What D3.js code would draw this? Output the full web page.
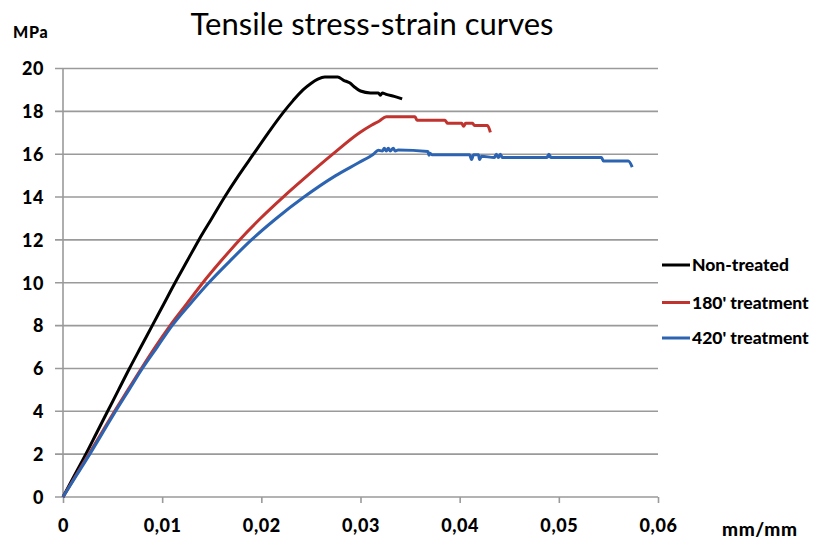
<!DOCTYPE html>
<html><head><meta charset="utf-8">
<script src="https://cdn.jsdelivr.net/npm/d3@7"></script>
<style>body{margin:0;background:#fff}svg{display:block}</style>
</head><body>
<svg id="c" width="826" height="545"></svg>
<script>
const title = "Tensile stress-strain curves";
const yUnit = "MPa", xUnit = "mm/mm";
const xTicks = [0, 0.01, 0.02, 0.03, 0.04, 0.05, 0.06];
const xTickLabels = ["0", "0,01", "0,02", "0,03", "0,04", "0,05", "0,06"];
const yTicks = [0, 2, 4, 6, 8, 10, 12, 14, 16, 18, 20];
const seriesNames = ["Non-treated", "180' treatment", "420' treatment"];
const seriesColors = ["#000000", "#c0332f", "#2c64b2"];

const nonTreatedStrain = [0,0.00115,0.0023,0.0034,0.0045,0.0056,0.0067,0.00785,0.0090,0.01015,0.0113,0.0125,0.0137,0.0150,0.0163,0.0177,0.0192,0.0207,0.0223,0.0232,0.0242,0.0250,0.0257,0.0264,0.0277,0.0283,0.0289,0.0295,0.0300,0.0310,0.0318,0.0320,0.0322,0.0326,0.0334,0.0342];
const nonTreatedStress = [0,1,2,3,4,5,6,7,8,9,10,11,12,13,14,15,16,17,18,18.5,19.0,19.3,19.5,19.6,19.6,19.45,19.33,19.1,18.95,18.86,18.86,18.75,18.86,18.79,18.7,18.58];

const t180Strain = [0,0.0013,0.0026,0.0039,0.0052,0.00655,0.0079,0.0093,0.0108,0.01245,0.0141,0.0159,0.0178,0.0199,0.0222,0.02465,0.0272,0.0299,0.0311,0.0319,0.0326,0.0355,0.0357,0.0385,0.0388,0.0402,0.0404,0.0406,0.0413,0.0415,0.0428,0.0431];
const t180Stress = [0,1,2,3,4,5,6,7,8,9,10,11,12,13,14,15,16,17,17.35,17.55,17.75,17.75,17.58,17.58,17.44,17.44,17.3,17.44,17.44,17.34,17.34,17.02];

const t420Strain = [0,0.00135,0.0027,0.0040,0.0053,0.00665,0.0080,0.0095,0.0110,0.0128,0.0147,0.0168,0.0190,0.0215,0.0243,0.0275,0.0298,0.0313,0.0318,0.0322,0.0324,0.0326,0.0328,0.0330,0.0333,0.0335,0.0338,0.0368,0.0369,0.0370,0.0372,0.0410,0.0412,0.0414,0.0419,0.0420,0.0422,0.0435,0.0437,0.0439,0.0441,0.0443,0.0488,0.0490,0.0492,0.0543,0.0545,0.0570,0.0574];
const t420Stress = [0,1,2,3,4,5,6,7,8,9,10,11,12,13,14,15,15.6,16.0,16.18,16.15,16.28,16.15,16.28,16.15,16.28,16.15,16.2,16.13,15.95,16.05,15.98,15.98,15.75,15.98,15.98,15.75,15.9,15.85,16.0,15.85,16.0,15.85,15.85,16.0,15.85,15.85,15.68,15.68,15.4];

const strains = [nonTreatedStrain, t180Strain, t420Strain];
const stresses = [nonTreatedStress, t180Stress, t420Stress];

const svg = d3.select("#c");
const font = "Lato, 'Open Sans', sans-serif";
const x = d3.scaleLinear().domain([0, 0.06]).range([63, 658]);
const y = d3.scaleLinear().domain([0, 20]).range([497, 68.5]);

// gridlines
svg.append("g").selectAll("line").data(yTicks).join("line")
  .attr("x1", 55).attr("x2", x(0.06))
  .attr("y1", d => y(d)).attr("y2", d => y(d))
  .attr("stroke", "#9a9a9a").attr("stroke-width", 1.6);

// y axis line
svg.append("line").attr("x1", x(0)).attr("x2", x(0)).attr("y1", y(20)).attr("y2", y(0))
  .attr("stroke", "#9a9a9a").attr("stroke-width", 1.6);

// x ticks
const xAxis = d3.axisBottom(x).tickValues(xTicks).tickSize(6).tickFormat((d, i) => xTickLabels[i]);
const gx = svg.append("g").attr("transform", `translate(0,${y(0)})`).call(xAxis);
gx.select(".domain").remove();
gx.selectAll(".tick line").attr("stroke", "#9a9a9a").attr("stroke-width", 1.6);
gx.selectAll(".tick text").attr("y", 35).attr("dy", null)
  .attr("font-family", font).attr("font-weight", "900").attr("font-size", 18)
  .attr("letter-spacing", 0.6).attr("fill", "#000");

// y labels
const yAxis = d3.axisLeft(y).tickValues(yTicks).tickSize(0).tickPadding(0);
const gy = svg.append("g").attr("transform", `translate(${x(0)},0)`).call(yAxis);
gy.select(".domain").remove();
gy.selectAll(".tick text").attr("x", -19).attr("dy", "0.35em")
  .attr("font-family", font).attr("font-weight", "900").attr("font-size", 18)
  .attr("letter-spacing", 0.6).attr("fill", "#000");

// lines
const line = d3.line().curve(d3.curveMonotoneX).x(d => x(d[0])).y(d => y(d[1]));
strains.forEach((sx, i) => {
  const pts = sx.map((v, j) => [v, stresses[i][j]]);
  svg.append("path").datum(pts).attr("d", line).attr("fill", "none")
    .attr("stroke", seriesColors[i]).attr("stroke-width", 3).attr("stroke-linejoin", "round");
});

// title & units
svg.append("text").attr("x", 372).attr("y", 35).attr("text-anchor", "middle")
  .attr("font-family", font).attr("font-size", 31).attr("fill", "#000").text(title);
svg.append("text").attr("x", 13).attr("y", 38)
  .attr("font-family", font).attr("font-weight", "900").attr("font-size", 16)
  .attr("letter-spacing", 0.8).attr("fill", "#000").text(yUnit);
svg.append("text").attr("x", 722).attr("y", 536)
  .attr("font-family", font).attr("font-weight", "900").attr("font-size", 19)
  .attr("letter-spacing", 0.6).attr("fill", "#000").text(xUnit);

// legend
const legY = [265, 302.5, 338];
const lg = svg.append("g");
seriesNames.forEach((n, i) => {
  lg.append("line").attr("x1", 662).attr("x2", 690).attr("y1", legY[i]).attr("y2", legY[i])
    .attr("stroke", seriesColors[i]).attr("stroke-width", 3);
  lg.append("text").attr("x", 692).attr("y", legY[i]).attr("dy", "0.36em")
    .attr("font-family", font).attr("font-weight", "900").attr("font-size", 17.5).attr("fill", "#000").text(n);
});
</script>
</body></html>
